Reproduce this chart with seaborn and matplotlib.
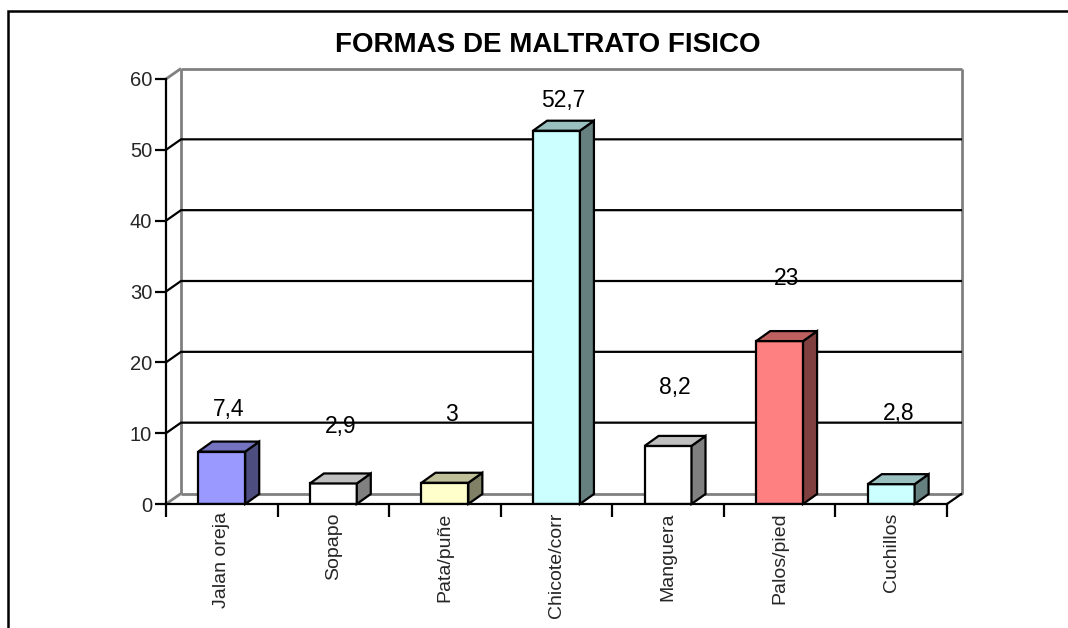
import matplotlib
matplotlib.use("Agg")
import numpy as np
import pandas as pd
import seaborn as sns
import matplotlib.pyplot as plt
from matplotlib.patches import Polygon, Rectangle
from matplotlib.lines import Line2D

# ---- data ----
categories = ["Jalan oreja", "Sopapo", "Pata/puñe", "Chicote/corr", "Manguera", "Palos/pied", "Cuchillos"]
values = [7.4, 2.9, 3, 52.7, 8.2, 23, 2.8]
value_labels = ["7,4", "2,9", "3", "52,7", "8,2", "23", "2,8"]
label_heights = [13.3, 10.9, 12.6, 57.0, 16.4, 31.9, 12.8]
yticks = [0, 10, 20, 30, 40, 50, 60]
title = "FORMAS DE MALTRATO FISICO"

front_colors = ["#9999FF", "#FFFFFF", "#FFFFCC", "#CCFFFF", "#FFFFFF", "#FF8080", "#CCFFFF"]
side_colors = ["#4D4D80", "#808080", "#808066", "#668080", "#808080", "#804040", "#668080"]
top_colors = ["#7373BF", "#BFBFBF", "#BFBF99", "#99BFBF", "#BFBFBF", "#BF6060", "#99BFBF"]

sns.set_theme(style="white")
plt.rcParams["font.family"] = ["Liberation Sans", "DejaVu Sans"]

W, H = 1068, 628
fig = plt.figure(figsize=(W / 100, H / 100), dpi=100)
fig.patch.set_facecolor("white")
ax = fig.add_axes([166 / W, (H - 504) / H, 781 / W, 425 / H])
ax.patch.set_alpha(0)

df = pd.DataFrame({"cat": categories, "val": values})
sns.barplot(data=df, x="cat", y="val", hue="cat", palette=front_colors, legend=False,
            width=0.42, edgecolor="black", linewidth=1.6, ax=ax, zorder=4,
            saturation=1)
ax.set_xlim(-0.5, len(categories) - 0.5)
ax.set_ylim(yticks[0], yticks[-1])


def px_to_data(dxp, dyp):
    x0, y0 = ax.transData.transform((0, 0))
    x1, y1 = ax.transData.inverted().transform((x0 + dxp, y0 + dyp))
    return x1, y1


wx, wy = px_to_data(15, 10.5)
bx, by = px_to_data(14, 10)
xl, xr = -0.5, len(categories) - 0.5
ymin, ymax = yticks[0], yticks[-1]
grey = "#808080"

def line(xs, ys, color, lw, z=1):
    ax.add_line(Line2D(xs, ys, color=color, lw=lw, clip_on=False, zorder=z,
                       solid_capstyle="butt"))

# back walls (grey)
line([xl + wx, xl + wx], [ymin + wy, ymax + wy], grey, 2.0)
line([xl + wx, xr + wx], [ymax + wy, ymax + wy], grey, 2.0)
line([xr + wx, xr + wx], [ymin + wy, ymax + wy], grey, 2.0)
line([xl + wx, xr + wx], [ymin + wy, ymin + wy], grey, 2.0)
line([xl, xl + wx], [ymin, ymin + wy], grey, 2.0)
line([xl, xl + wx], [ymax, ymax + wy], grey, 2.0)
# gridlines (black)
for t in yticks[1:-1]:
    line([xl, xl + wx, xr + wx], [t, t + wy, t + wy], "black", 1.6)
line([xr, xr + wx], [ymin, ymin + wy], "black", 1.6)

# 3D bar sides and tops
for i, p in enumerate(ax.patches[:len(categories)]):
    x0, w, h = p.get_x(), p.get_width(), p.get_height()
    side = Polygon([(x0 + w, 0), (x0 + w + bx, by), (x0 + w + bx, h + by), (x0 + w, h)],
                   closed=True, facecolor=side_colors[i], edgecolor="black", lw=1.6,
                   zorder=4, clip_on=False, joinstyle="miter")
    top = Polygon([(x0, h), (x0 + bx, h + by), (x0 + w + bx, h + by), (x0 + w, h)],
                  closed=True, facecolor=top_colors[i], edgecolor="black", lw=1.6,
                  zorder=4, clip_on=False, joinstyle="miter")
    ax.add_patch(side)
    ax.add_patch(top)
    ax.text(i + bx / 2, label_heights[i], value_labels[i], ha="center", va="center",
            fontsize=16.5, color="black", zorder=6)

# axes styling
for s in ["top", "right"]:
    ax.spines[s].set_visible(False)
for s in ["left", "bottom"]:
    ax.spines[s].set_color("black")
    ax.spines[s].set_linewidth(1.6)
    ax.spines[s].set_zorder(5)

ax.set_yticks(yticks)
ax.set_yticklabels([str(t) for t in yticks])
ax.tick_params(axis="y", length=8, width=1.6, direction="out", labelsize=14.5,
               pad=2, color="black", left=True)
ax.set_xticks(range(len(categories)))
ax.set_xticklabels(categories, rotation=90, fontsize=14)
ax.tick_params(axis="x", which="major", length=0, pad=6)
ax.set_xticks(np.arange(-0.5, len(categories), 1.0), minor=True)
ax.tick_params(axis="x", which="minor", length=9, width=1.6, direction="out",
               color="black", bottom=True)
ax.set_xlabel("")
ax.set_ylabel("")

fig.text(548 / W, 1 - 45 / H, title, ha="center", va="center",
         fontsize=20, fontweight="bold", color="black")

fig.add_artist(Rectangle((7.5 / W, -0.5), 3.0, 1 - 11 / H + 0.5,
                         transform=fig.transFigure, fill=False,
                         edgecolor="black", lw=1.8))

fig.savefig("out.png", dpi=100)
